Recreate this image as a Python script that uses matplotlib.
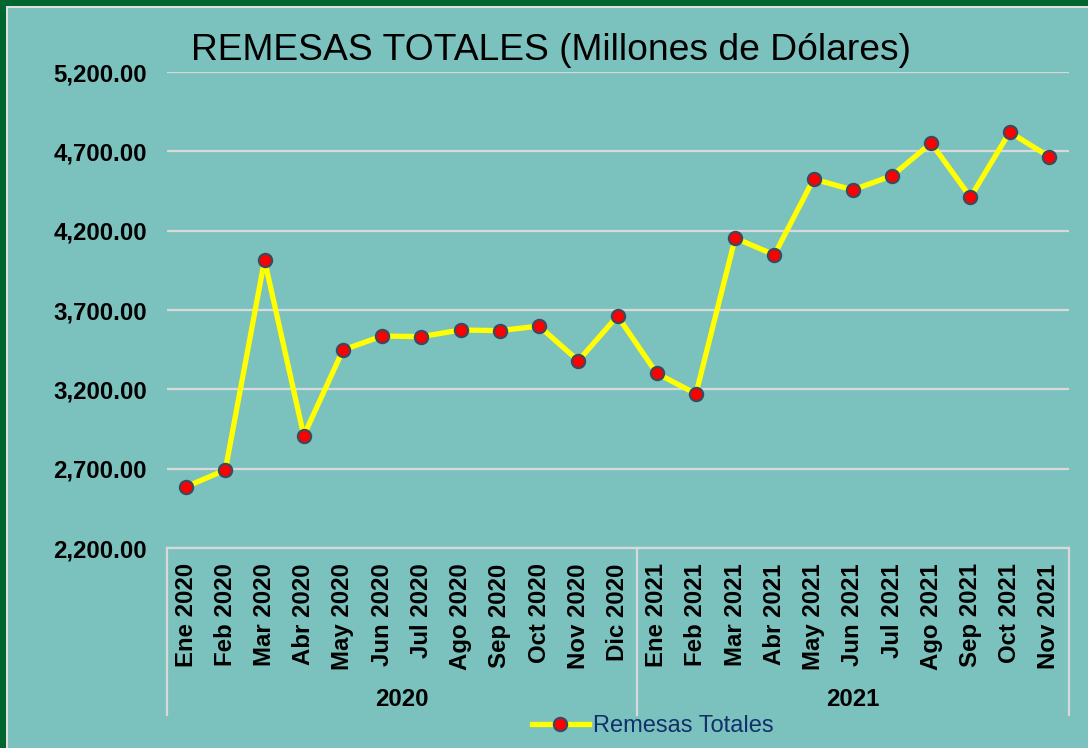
import matplotlib
matplotlib.use('Agg')
import matplotlib.pyplot as plt
import matplotlib.transforms as mtransforms
from matplotlib.patches import Rectangle

plt.rcParams['font.family'] = ['Liberation Sans', 'DejaVu Sans']

# datos
meses = ['Ene 2020', 'Feb 2020', 'Mar 2020', 'Abr 2020', 'May 2020', 'Jun 2020',
         'Jul 2020', 'Ago 2020', 'Sep 2020', 'Oct 2020', 'Nov 2020', 'Dic 2020',
         'Ene 2021', 'Feb 2021', 'Mar 2021', 'Abr 2021', 'May 2021', 'Jun 2021',
         'Jul 2021', 'Ago 2021', 'Sep 2021', 'Oct 2021', 'Nov 2021']
remesas = [2586, 2692, 4015, 2908, 3448, 3536, 3532, 3574, 3570, 3599, 3380, 3662,
           3301, 3172, 4153, 4048, 4525, 4457, 4546, 4752, 4411, 4821, 4667]
anios = ['2020', '2021']
meses_por_anio = [12, 11]
yticks = [2200, 2700, 3200, 3700, 4200, 4700, 5200]

fondo = '#7BC2BF'
verde = '#00652F'
gris = '#D9D9D9'

W, H = 1088, 748
fig = plt.figure(figsize=(W/100, H/100), dpi=100)
fig.patch.set_facecolor(verde)
# marco: borde verde arriba/izquierda, linea clara y fondo teal
fig.patches.append(Rectangle((6/W, 0), 1, 1-6/H, transform=fig.transFigure,
                             facecolor='#E0E0E0', edgecolor='none', zorder=-2))
fig.patches.append(Rectangle((8/W, 0), 1, 1-8/H, transform=fig.transFigure,
                             facecolor=fondo, edgecolor='none', zorder=-1))

x0, x1, ytop, ybot = 166.5, 1068.5, 72, 548
ax = fig.add_axes([x0/W, 1-ybot/H, (x1-x0)/W, (ybot-ytop)/H])
ax.set_facecolor(fondo)

x = list(range(len(meses)))
ax.plot(x, remesas, color='#FFFF00', lw=3.8, marker='o', ms=9.5,
        mfc='#FF0000', mec='#3B4A5C', mew=1.6, zorder=3, label='Remesas Totales',
        clip_on=False)

ax.set_ylim(2200, 5200)
ax.set_xlim(-0.5, len(meses)-0.5)
ax.set_yticks(yticks)
ax.set_yticklabels(['{:,.2f}'.format(v) for v in yticks], fontsize=17.3, fontweight='bold')
ax.yaxis.grid(True, color=gris, lw=1.6)
ax.set_axisbelow(True)
for s in ['top', 'right', 'left']:
    ax.spines[s].set_visible(False)
ax.spines['bottom'].set_color(gris)
ax.spines['bottom'].set_linewidth(1.6)
ax.tick_params(axis='y', length=0, pad=14)
ax.set_xticks(x)
ax.set_xticklabels(meses, rotation=90, fontsize=17.3, fontweight='bold', va='top')
ax.tick_params(axis='x', length=0, pad=11)

# separadores de grupos y etiquetas de anio
tr = mtransforms.blended_transform_factory(ax.transData, ax.transAxes)
fondo_sep = -(715-548)/(ybot-ytop)
bordes = [-0.5]
for n in meses_por_anio:
    bordes.append(bordes[-1] + n)
for b in bordes:
    ax.plot([b, b], [0, fondo_sep], color=gris, lw=1.6, transform=tr, clip_on=False)
for i, a in enumerate(anios):
    ax.text((bordes[i]+bordes[i+1])/2, -(700-548)/(ybot-ytop), a, transform=tr,
            ha='center', va='center', fontsize=17.3, fontweight='bold')

fig.text(551/W, 1-51/H, 'REMESAS TOTALES (Millones de Dólares)', ha='center', va='center',
         fontsize=26.8, color='black')

leg = ax.legend(loc='center', bbox_to_anchor=(653/W, 1-726/H), bbox_transform=fig.transFigure,
                frameon=False, fontsize=17, handlelength=2.4, handletextpad=0.2, numpoints=1,
                borderpad=0, borderaxespad=0)
for t in leg.get_texts():
    t.set_color('#13306B')

fig.savefig('out.png', dpi=100, facecolor=fig.get_facecolor())
